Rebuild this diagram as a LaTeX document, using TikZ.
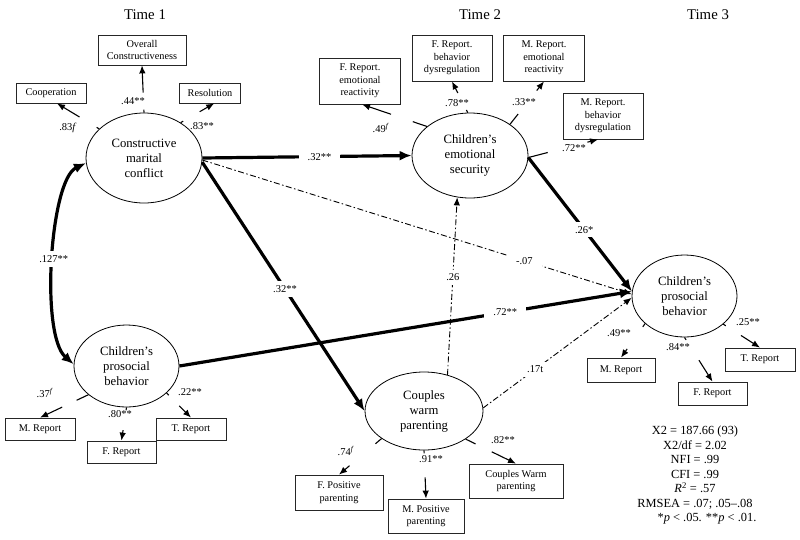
\documentclass[tikz,border=0pt]{standalone}
\usepackage{fontspec}
\setmainfont{Liberation Serif}
\usepackage{tikz}
\usetikzlibrary{shapes.geometric,arrows.meta}
\newcommand{\timesize}{\fontsize{14.8}{17}\selectfont}
\newcommand{\latsize}{\fontsize{12.7}{15}\selectfont}
\newcommand{\obssize}{\fontsize{10.3}{12.5}\selectfont}
\newcommand{\coefsize}{\fontsize{10.5}{12}\selectfont}
\newcommand{\fitsize}{\fontsize{12.4}{14.5}\selectfont}
\tikzset{
  latent/.style={ellipse, draw=black, line width=0.8pt, align=center, font=\latsize, inner sep=0pt},
  obs/.style={draw=black!85, line width=0.8pt, align=center, font=\obssize, inner sep=1pt},
  load/.style={draw=black, line width=1.1pt, -{Latex[length=8pt,width=6.5pt]}},
  broken/.style 2 args={dash pattern=on #1 off #2 on 600pt},
  strong/.style={draw=black, line width=3.2pt, -{Latex[length=12pt,width=10pt]}},
  strongboth/.style={draw=black, line width=3.2pt, {Latex[length=12pt,width=10pt]}-{Latex[length=12pt,width=10pt]}},
  weak/.style={draw=black, line width=0.9pt, dash pattern=on 6pt off 2.5pt on 1.5pt off 2.5pt, -{Latex[length=8pt,width=6.5pt]}},
  coef/.style={font=\coefsize, inner sep=1pt},
  gapcoef/.style={coef, fill=white, inner xsep=9pt, inner ysep=4pt},
  heading/.style={font=\timesize},
  fitstats/.style={font=\fitsize, align=center},
}

\begin{document}
\begin{tikzpicture}[x=1pt, y=-1pt]
\useasboundingbox (0,0) rectangle (800,539);

\node[heading] (time1) at (145,15) {Time 1};
\node[heading] (time2) at (480,15) {Time 2};
\node[heading] (time3) at (708,15) {Time 3};

% latent variables
\node[latent, minimum width=116pt, minimum height=90pt] (cmc) at (144,158) {Constructive\\marital\\conflict};
\node[latent, minimum width=116pt, minimum height=85pt] (ces) at (470,155.5) {Children’s\\emotional\\security};
\node[latent, minimum width=105pt, minimum height=82pt] (cpb1) at (126.5,366) {Children’s\\prosocial\\behavior};
\node[latent, minimum width=105pt, minimum height=82pt] (cpb3) at (684.5,296) {Children’s\\prosocial\\behavior};
\node[latent, minimum width=118pt, minimum height=78pt] (cwp) at (424,411) {Couples\\warm\\parenting};

% indicators
\node[obs, minimum width=88pt, minimum height=30pt] (ovr) at (142,50) {Overall\\Constructiveness};
\node[obs, minimum width=70pt, minimum height=20pt] (coop) at (51,93) {Cooperation};
\node[obs, minimum width=61pt, minimum height=20pt] (res) at (210,93) {Resolution};
\node[obs, minimum width=81pt, minimum height=46pt] (frer) at (360,81) {F. Report.\\emotional\\reactivity};
\node[obs, minimum width=80pt, minimum height=46pt] (frbd) at (452,58) {F. Report.\\behavior\\dysregulation};
\node[obs, minimum width=81pt, minimum height=46pt] (mrer) at (544,58) {M. Report.\\emotional\\reactivity};
\node[obs, minimum width=80pt, minimum height=46pt] (mrbd) at (603,116) {M. Report.\\behavior\\dysregulation};
\node[obs, minimum width=68pt, minimum height=24pt] (m3) at (621,370) {M. Report};
\node[obs, minimum width=69pt, minimum height=23pt] (f3) at (712.5,393.5) {F. Report};
\node[obs, minimum width=70pt, minimum height=23pt] (tr3) at (760,359.5) {T. Report};
\node[obs, minimum width=70pt, minimum height=22pt] (m1) at (40,429) {M. Report};
\node[obs, minimum width=69pt, minimum height=22pt] (f1) at (121.5,452) {F. Report};
\node[obs, minimum width=70pt, minimum height=22pt] (tr1) at (191,429) {T. Report};
\node[obs, minimum width=88pt, minimum height=35pt] (fpp) at (339,492.5) {F. Positive\\parenting};
\node[obs, minimum width=76pt, minimum height=34pt] (mpp) at (426,516) {M. Positive\\parenting};
\node[obs, minimum width=94pt, minimum height=34pt] (cwb) at (516,481) {Couples Warm\\parenting};

% loadings
\draw[load, broken={3pt}{17pt}] (cmc.north) -- (ovr.south);
\draw[load, broken={3pt}{20pt}] (cmc.147) -- (coop.-60);
\draw[load, broken={3pt}{19pt}] (cmc.44) -- (res.-68);
\draw[load, broken={15pt}{23pt}] (ces.146) -- (frer.-85);
\draw[load, broken={3pt}{19pt}] (ces.93) -- (frbd.south);
\draw[load, broken={13pt}{30pt}] (ces.38) -- (mrer.south);
\draw[load, broken={20pt}{41pt}] (ces.-2) -- (mrbd.-102);
\draw[load, broken={4pt}{27pt}] (cpb3.215) -- (m3.north);
\draw[load, broken={3pt}{24pt}] (cpb3.south) -- (f3.north);
\draw[load, broken={3pt}{18pt}] (cpb3.-36) -- (tr3.north);
\draw[load, broken={13pt}{16pt}] (cpb1.217) -- (m1.north);
\draw[load, broken={3pt}{20pt}] (cpb1.south) -- (f1.north);
\draw[load, broken={3pt}{15pt}] (cpb1.-34) -- (tr1.north);
\draw[load, broken={8pt}{34pt}] (cwp.213) -- (fpp.north);
\draw[load, broken={3pt}{24pt}] (cwp.south) -- (mpp.north);
\draw[load, broken={11pt}{18pt}] (cwp.-34) -- (cwb.north);

\node[coef] (l44) at (133,101) {.44**};
\node[coef] (l83a) at (68,128) {.83\textit{f}};
\node[coef] (l83b) at (202,126) {.83**};
\node[coef] (l49a) at (381,128) {.49\textsuperscript{\textit{f}}};
\node[coef] (l78) at (457,103) {.78**};
\node[coef] (l33) at (524,102) {.33**};
\node[coef] (l72a) at (574,148) {.72**};
\node[coef] (l49b) at (619,333) {.49**};
\node[coef] (l84) at (678,347) {.84**};
\node[coef] (l25) at (748,322) {.25**};
\node[coef] (l37) at (45,393) {.37\textsuperscript{\textit{f}}};
\node[coef] (l80) at (120,414) {.80**};
\node[coef] (l22) at (190,392) {.22**};
\node[coef] (l74) at (346,451) {.74\textsuperscript{\textit{f}}};
\node[coef] (l91) at (431,459) {.91**};
\node[coef] (l82) at (503,440) {.82**};

% structural paths
\draw[strong] (cmc.east) -- node[gapcoef, pos=0.56] (p1) {.32**} (ces.west);
\draw[strong] (cmc.-4) -- node[gapcoef, pos=0.51] (p2) {.32**} (cwp.west);
\draw[weak] (cmc.-2) -- node[gapcoef, pos=0.75] (p3) {-.07} (cpb3.178);
\draw[strong] (ces.-2) -- node[gapcoef, pos=0.54] (p4) {.26*} (cpb3.175);
\draw[strong] (cpb1.east) -- node[gapcoef, pos=0.72] (p5) {.72**} (cpb3.175);
\draw[weak] (cwp.57) -- node[gapcoef, pos=0.55] (p6) {.26} (ces.253);
\draw[weak] (cwp.3) -- node[gapcoef, pos=0.35] (p7) {.17t} (cpb3.182);
\draw[strongboth] (cmc.185) .. controls (50,180) and (40,335) .. node[gapcoef, pos=0.5] (p8) {.127**} (cpb1.178);

\node[fitstats] (stats) at (695,475.5) {X2 = 187.66 (93)\\X2/df = 2.02\\NFI = .99\\CFI = .99\\\textit{R}\textsuperscript{2} = .57\\RMSEA = .07; .05--.08\\\hspace*{24pt}*\textit{p} < .05. **\textit{p} < .01.};
\end{tikzpicture}
\end{document}
